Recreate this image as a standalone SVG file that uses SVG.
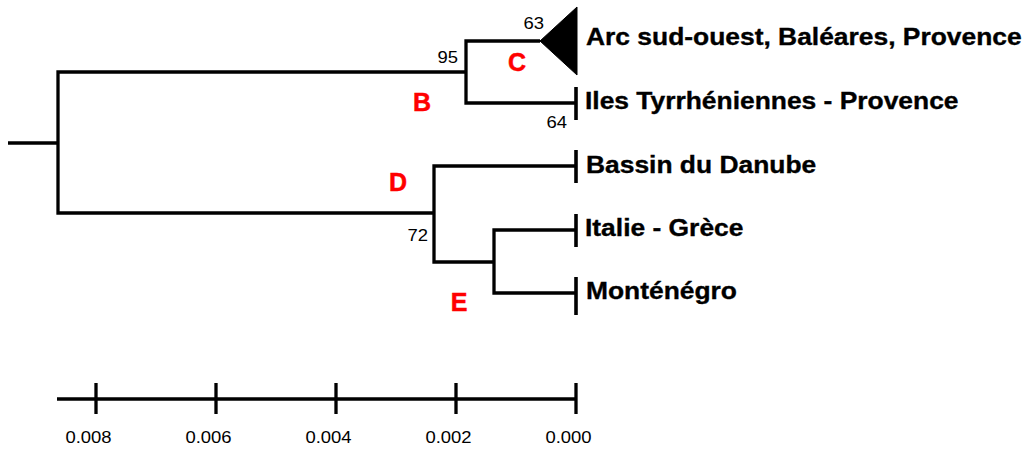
<svg xmlns="http://www.w3.org/2000/svg" width="1027" height="452" viewBox="0 0 1027 452">
<style>
.br{fill:none;stroke:#000;stroke-width:3.3;stroke-linejoin:miter;stroke-linecap:butt}
.bar{stroke:#000;stroke-width:3.6}
.lab{font-family:"Liberation Sans",Arial,sans-serif;font-weight:bold;font-size:24px;fill:#000;stroke:#000;stroke-width:0.35}
.num{font-family:"Liberation Sans",Arial,sans-serif;font-size:16.5px;fill:#000}
.cl{font-family:"Liberation Sans",Arial,sans-serif;font-weight:bold;font-size:25px;fill:#ff0000;stroke:#ff0000;stroke-width:0.5;text-anchor:middle}
</style>
<rect width="1027" height="452" fill="#fff"/>
<g id="connectors">
<path class="br" d="M8,143 H58"/>
<path class="br" d="M466,72 H58 V213 H434"/>
<path class="br" d="M540,41 H466 V103 H576"/>
<path class="br" d="M576,166 H434 V262 H494"/>
<path class="br" d="M576,230 H494 V293 H576"/>
</g>
<g id="leaf-arc">
<polygon points="540,41 577,7 577,75" fill="#000" stroke="#000" stroke-width="1" stroke-linejoin="round"/>
<text class="lab" transform="translate(586,45) scale(1.1,1)">Arc sud-ouest, Baléares, Provence</text>
</g>
<g id="leaf-iles">
<line class="bar" x1="576" y1="87" x2="576" y2="120"/>
<text class="lab" transform="translate(585,109) scale(1.1,1)">Iles Tyrrhéniennes - Provence</text>
</g>
<g id="leaf-bassin">
<line class="bar" x1="576" y1="150" x2="576" y2="183"/>
<text class="lab" transform="translate(586,173) scale(1.1,1)">Bassin du Danube</text>
</g>
<g id="leaf-italie">
<line class="bar" x1="576" y1="214" x2="576" y2="247"/>
<text class="lab" transform="translate(585,236) scale(1.1,1)">Italie - Grèce</text>
</g>
<g id="leaf-montenegro">
<line class="bar" x1="576" y1="277" x2="576" y2="315"/>
<text class="lab" transform="translate(586,299) scale(1.1,1)">Monténégro</text>
</g>
<g id="node-B">
<text class="num" text-anchor="end" transform="translate(458,63) scale(1.12,1)">95</text>
<text class="cl" x="422" y="111">B</text>
</g>
<g id="node-C">
<text class="num" text-anchor="end" transform="translate(544,29) scale(1.12,1)">63</text>
<text class="cl" x="517" y="71">C</text>
</g>
<g id="node-iles-support">
<text class="num" text-anchor="end" transform="translate(567,128) scale(1.12,1)">64</text>
</g>
<g id="node-D">
<text class="num" text-anchor="end" transform="translate(428,241) scale(1.12,1)">72</text>
<text class="cl" x="398" y="191">D</text>
</g>
<g id="node-E">
<text class="cl" x="459" y="311">E</text>
</g>
<g id="scale">
<path class="br" d="M57,399 H576 M96,383 V414 M216,383 V414 M336,383 V414 M456,383 V414 M576,383 V414"/>
<g class="num" text-anchor="middle">
<text transform="translate(88.5,443) scale(1.12,1)">0.008</text>
<text transform="translate(208.5,443) scale(1.12,1)">0.006</text>
<text transform="translate(328.5,443) scale(1.12,1)">0.004</text>
<text transform="translate(448.5,443) scale(1.12,1)">0.002</text>
<text transform="translate(568.5,443) scale(1.12,1)">0.000</text>
</g>
</g>
</svg>
